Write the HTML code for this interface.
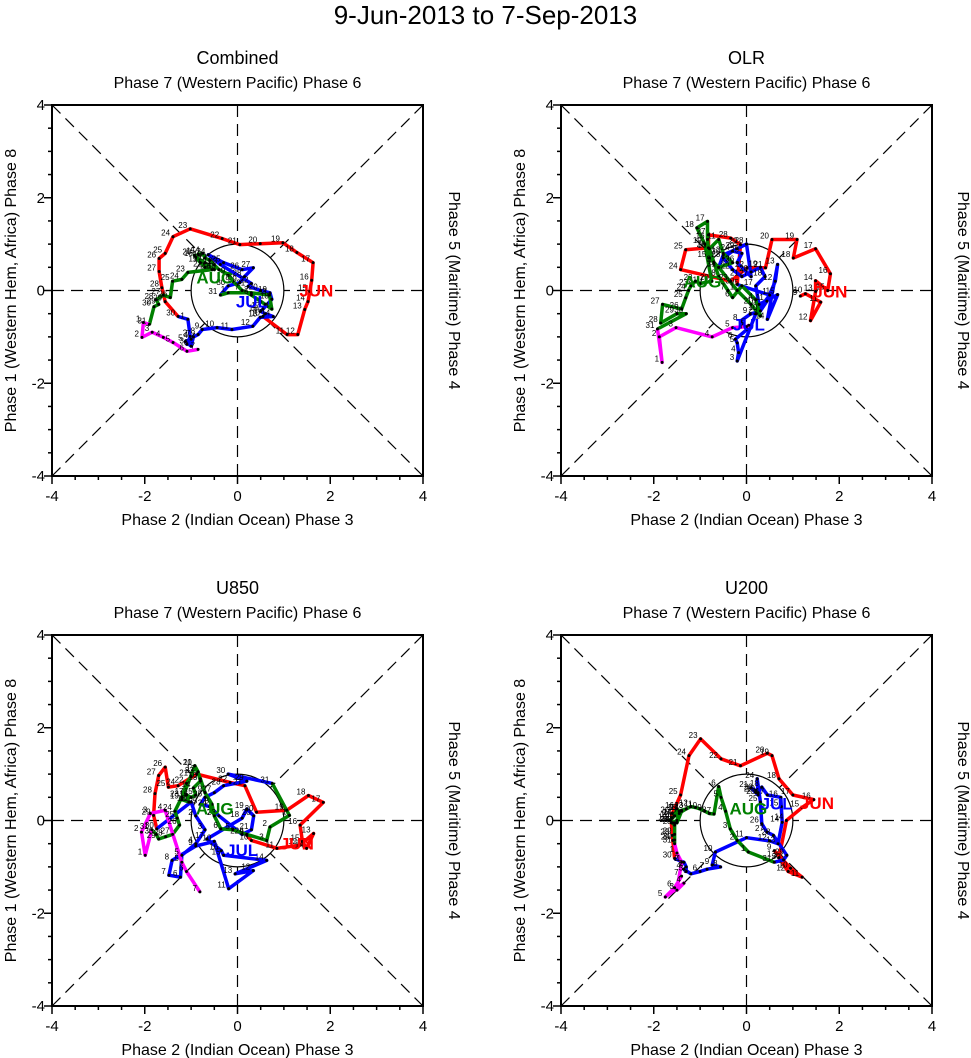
<!DOCTYPE html>
<html><head><meta charset="utf-8"><style>
html,body{margin:0;padding:0;background:#fff}
svg{display:block;font-family:"Liberation Sans",Arial,sans-serif}
</style></head><body>
<svg id="root" width="971" height="1058" viewBox="0 0 971 1058" xmlns="http://www.w3.org/2000/svg">
<text x="485.5" y="24" text-anchor="middle" font-size="26">9-Jun-2013 to 7-Sep-2013</text>
</svg>
<script>
// ---- data (RMM1, RMM2) per panel / month ----
const panelTitles = ["Combined","OLR","U850","U200"];
const monthNames = ["JUN","JUL","AUG"];
const monthStartDays = [10, 9, 9, 9];
const tickValues = [-4,-2,0,2,4];

const combJun = [[0.55,-0.56],[1.07,-0.95],[1.30,-0.95],[1.45,-0.41],[1.52,-0.24],[1.56,-0.02],[1.6,0.22],[1.63,0.6],[1.28,0.82],[0.98,1.03],[0.49,1.01],[0.05,0.99],[-0.33,1.12],[-1.02,1.33],[-1.39,1.16],[-1.56,0.8],[-1.69,0.69],[-1.69,0.41],[-1.63,0.06],[-1.56,-0.24],[-1.28,-0.56]];
const combJul = [[-1.07,-0.62],[-1.02,-0.99],[-1.09,-1.16],[-1.0,-1.05],[-1.12,-1.1],[-1.0,-1.2],[-0.95,-1.0],[-0.85,-0.95],[-0.76,-0.84],[-0.44,-0.8],[-0.12,-0.84],[0.33,-0.77],[0.49,-0.58],[0.77,-0.56],[0.6,-0.5],[0.5,-0.45],[0.55,-0.4],[0.74,-0.19],[0.7,-0.05],[0.5,0.0],[0.23,0.09],[0.3,0.15],[-0.37,0.56],[-0.63,0.77],[-0.3,0.6],[0.1,0.45],[0.34,0.49],[0.15,0.3],[0.05,0.17],[-0.2,0.1],[-0.37,-0.1]];
const combAug = [[-0.2,-0.05],[0.3,-0.05],[0.69,-0.1],[0.74,-0.4],[0.6,-0.3],[0.3,-0.1],[0.1,0.0],[-0.1,0.2],[-0.2,0.35],[-0.4,0.45],[-0.5,0.55],[-0.6,0.65],[-0.7,0.7],[-0.75,0.8],[-0.85,0.78],[-0.9,0.72],[-0.7,0.6],[-0.5,0.45],[-0.8,0.6],[-0.93,0.76],[-0.7,0.5],[-0.55,0.45],[-1.07,0.39],[-1.2,0.24],[-1.4,0.2],[-1.45,-0.15],[-1.6,-0.1],[-1.75,-0.2],[-1.7,-0.3],[-1.8,-0.35],[-1.9,-0.73]];
const combSep = [[-2.03,-0.69],[-2.06,-1.01],[-1.84,-0.9],[-1.6,-1.01],[-1.39,-1.12],[-1.09,-1.31],[-0.85,-1.27]];

const olrJun = [[1.16,-0.12],[1.27,-0.07],[1.6,-0.25],[1.38,-0.65],[1.49,-0.02],[1.49,0.21],[1.75,0.0],[1.81,0.36],[1.49,0.9],[1.01,0.7],[1.09,1.1],[0.55,1.1],[0.41,0.49],[0.01,0.49],[-0.34,0.2],[-1.42,0.45],[-1.31,0.88],[-0.82,0.92],[-0.82,1.2],[-0.34,1.13],[-0.13,0.99],[-0.2,0.13]];
const olrJul = [[0.5,-0.1],[0.2,-0.5],[-0.2,-1.52],[-0.17,-1.34],[-0.2,-1.13],[-0.24,-1.05],[0.01,-0.84],[-0.13,-0.66],[0.08,-0.51],[0.3,-0.44],[0.44,-0.23],[0.62,0.2],[0.67,0.56],[0.45,-0.62],[0.67,-0.09],[0.27,-0.3],[0.2,0.1],[0.4,0.3],[0.3,0.5],[0.1,0.4],[-0.1,0.3],[-0.3,0.45],[-0.5,0.7],[-0.3,0.85],[-0.1,0.8],[-0.2,0.6],[0.1,0.3],[0.0,1.0],[-0.2,0.9],[-0.5,0.77],[-0.6,0.5]];
const olrAug = [[-0.2,0.0],[0.1,-0.3],[0.3,-0.55],[0.2,-0.2],[-0.1,0.1],[-0.3,-0.15],[-0.4,0.0],[-0.6,0.3],[-0.7,0.6],[-0.8,0.9],[-0.6,1.1],[-0.5,0.8],[-0.3,0.6],[-0.6,0.5],[-0.8,0.7],[-0.84,1.1],[-0.84,1.49],[-1.07,1.35],[-0.9,1.0],[-0.75,0.2],[-1.0,0.15],[-1.1,0.2],[-1.2,0.1],[-1.25,0.0],[-1.31,-0.16],[-1.4,-0.4],[-1.81,-0.3],[-1.85,-0.7],[-1.5,-0.5],[-1.3,-0.5],[-1.92,-0.83]];
const olrSep = [[-1.82,-1.55],[-1.88,-1.0],[-1.52,-0.8],[-0.74,-1.0],[-0.3,-0.8],[0.0,-0.78],[0.05,-0.75]];

const u850Jun = [[0.2,-0.32],[0.3,-0.43],[0.85,-0.6],[1.35,-0.53],[1.64,-0.28],[1.49,-0.6],[1.4,-0.45],[1.35,-0.1],[1.85,0.39],[1.53,0.54],[1.06,0.22],[0.41,0.18],[0.16,0.75],[-0.16,0.82],[-0.88,1.0],[-1.28,0.75],[-1.49,0.72],[-1.56,1.15],[-1.7,0.97],[-1.78,0.58],[-1.81,0.11],[-1.74,-0.18]];
const u850Jul = [[-1.0,0.4],[-0.9,0.1],[-0.7,-0.2],[-0.9,-0.5],[-1.2,-0.75],[-1.23,-1.22],[-1.48,-1.18],[-1.41,-0.86],[-0.9,-0.55],[-0.5,-0.45],[-0.19,-1.47],[0.34,-1.08],[-0.05,-1.15],[0.63,-0.86],[-0.3,-0.75],[-0.35,-0.65],[-0.66,-0.4],[0.1,0.05],[0.2,0.25],[0.35,0.1],[0.3,-0.2],[0.1,-0.3],[-0.4,0.1],[-0.6,0.3],[-0.8,0.35],[-0.7,0.5],[-0.5,0.6],[-0.3,0.75],[0.2,0.85],[-0.2,1.0],[0.75,0.8]];
const u850Aug = [[1.12,0.11],[0.7,-0.14],[0.63,-0.43],[0.2,-0.3],[-0.1,-0.2],[-0.36,-0.18],[-0.5,0.1],[-0.55,0.35],[-0.7,0.6],[-0.8,0.9],[-0.92,1.18],[-0.85,1.05],[-0.8,0.85],[-0.95,0.7],[-0.9,0.55],[-1.0,0.5],[-1.1,0.55],[-1.05,0.4],[-1.2,0.45],[-0.92,1.18],[-1.0,0.95],[-1.1,0.8],[-1.2,0.5],[-1.35,0.2],[-1.3,0.05],[-1.25,-0.1],[-1.4,-0.3],[-1.55,-0.35],[-1.7,-0.4],[-1.75,-0.3],[-1.85,-0.2]];
const u850Sep = [[-1.99,-0.75],[-2.07,-0.25],[-1.88,0.15],[-1.56,0.22],[-1.2,-0.9],[-1.1,-1.1],[-0.81,-1.54]];

const u200Jun = [[0.6,-0.65],[0.95,-1.03],[1.2,-1.22],[0.9,-1.1],[0.7,-0.8],[0.86,0.0],[1.2,0.28],[1.45,0.45],[1.0,0.55],[0.7,0.9],[0.55,1.4],[0.45,1.45],[-0.13,1.18],[-0.55,1.33],[-0.99,1.76],[-1.24,1.4],[-1.42,0.55],[-1.6,0.15],[-1.62,-0.05],[-1.6,-0.32],[-1.59,-0.43],[-1.55,-0.82]];
const u200Jul = [[-1.35,-0.9],[-1.3,-1.0],[-1.3,-1.1],[-1.35,-1.05],[-1.2,-1.15],[-1.0,-1.1],[-0.85,-1.05],[-0.56,-1.0],[-0.74,-0.96],[-0.67,-0.68],[0.0,-0.37],[0.5,-0.44],[0.68,-0.5],[0.77,-0.04],[0.75,0.3],[0.74,0.5],[0.45,0.55],[0.33,0.72],[0.25,0.6],[0.2,0.65],[0.1,0.7],[0.2,0.6],[0.25,0.55],[0.23,0.9],[0.3,0.4],[0.33,-0.07],[0.44,-0.25],[0.58,-0.32],[0.87,-0.75],[0.8,-0.85],[0.6,-0.9]];
const u200Aug = [[0.04,-0.68],[-0.2,-0.43],[-0.35,-0.18],[-0.45,0.2],[-0.55,0.5],[-0.6,0.73],[-0.7,0.14],[-0.8,0.15],[-0.9,0.2],[-1.0,0.25],[-1.1,0.28],[-1.2,0.3],[-1.3,0.25],[-1.4,0.22],[-1.45,0.2],[-1.5,0.25],[-1.55,0.1],[-1.6,0.05],[-1.65,0.0],[-1.55,-0.05],[-1.5,-0.05],[-1.4,0.2],[-1.3,0.25],[-1.55,0.1],[-1.45,0.15],[-1.5,0.0],[-1.6,-0.05],[-1.55,-0.1],[-1.55,-0.3],[-1.55,-0.42],[-1.55,-0.5]];
const u200Sep = [[-1.5,-0.7],[-1.4,-0.9],[-1.5,-1.5],[-1.35,-1.35],[-1.75,-1.65],[-1.55,-1.45],[-1.4,-1.2]];

const monthLabelPos = [
  [[1.7,0.0],[0.31,-0.24],[-0.48,0.28]],
  [[1.81,-0.02],[0.05,-0.73],[-0.95,0.19]],
  [[1.28,-0.5],[0.1,-0.64],[-0.49,0.26]],
  [[1.52,0.38],[0.65,0.37],[0.04,0.26]]
];
const panelSeries = [
  [combJun,combJul,combAug,combSep],
  [olrJun,olrJul,olrAug,olrSep],
  [u850Jun,u850Jul,u850Aug,u850Sep],
  [u200Jun,u200Jul,u200Aug,u200Sep]
];
const colors = ["#ff0000","#0000ff","#008000","#ff00ff"];
const seriesKeys = ["jun","jul","aug","sep"];

const NS="http://www.w3.org/2000/svg";
const root=document.getElementById('root');
function mk(tag,attrs,parent){const e=document.createElementNS(NS,tag);for(const k in attrs)e.setAttribute(k,attrs[k]);(parent||root).appendChild(e);return e;}

const origins=[[52,105],[561,105],[52,635],[561,635]];
const SIZE=371;
panelSeries.forEach((series,p)=>{
  const [x0,y0]=origins[p];
  const sx=v=>x0+(v+4)/8*SIZE;
  const sy=v=>y0+(4-v)/8*SIZE;
  const unit=SIZE/8;
  const g=mk('g',{});
  
  
  const cx=sx(0), cy=sy(0);
  const t=mk('text',{x:cx,y:y0-41,'text-anchor':'middle','font-size':18},g);t.textContent=panelTitles[p];
  
  
  const tt=mk('text',{x:cx,y:y0-17,'text-anchor':'middle','font-size':16},g);tt.textContent='Phase 7 (Western Pacific) Phase 6';
  
  
  const bt=mk('text',{x:cx,y:y0+SIZE+49,'text-anchor':'middle','font-size':16},g);bt.textContent='Phase 2 (Indian Ocean) Phase 3';
  
  
  const lt=mk('text',{x:0,y:0,'text-anchor':'middle','font-size':16,transform:`translate(${x0-36},${cy}) rotate(-90)`},g);lt.textContent='Phase 1 (Western Hem, Africa) Phase 8';
  
  
  const rt=mk('text',{x:0,y:0,'text-anchor':'middle','font-size':16,transform:`translate(${x0+SIZE+26},${cy}) rotate(90)`},g);rt.textContent='Phase 5 (Maritime) Phase 4';
  
  
  const dirs=[[1,0],[-1,0],[0,1],[0,-1],[1,1],[1,-1],[-1,1],[-1,-1]];
  dirs.forEach(d=>{
    const len=Math.hypot(d[0],d[1]);
    const ex=cx+d[0]*4*unit, ey=cy-d[1]*4*unit;
    const ix=cx+d[0]/len*unit, iy=cy-d[1]/len*unit;
    const l=mk('line',{x1:ex,y1:ey,x2:ix,y2:iy,stroke:'#000','stroke-width':1.2,'stroke-dasharray':'12,7'},g);
    
    
  });
  const c=mk('circle',{cx:cx,cy:cy,r:unit,fill:'none',stroke:'#000','stroke-width':1.2},g);
  
  
  const fr=mk('rect',{x:x0,y:y0,width:SIZE,height:SIZE,fill:'none',stroke:'#000','stroke-width':2},g);
  
  
  // outward ticks on left and bottom
  for(let v=-4;v<=4;v+=0.5){
    const major=(v%2===0);const L=major?8:4;
    mk('line',{x1:sx(v),y1:y0+SIZE,x2:sx(v),y2:y0+SIZE+L,stroke:'#000','stroke-width':1.5},g);
    mk('line',{x1:x0,y1:sy(v),x2:x0-L,y2:sy(v),stroke:'#000','stroke-width':1.5},g);
  }
  tickValues.forEach(v=>{
    const a=mk('text',{x:sx(v),y:y0+SIZE+25,'text-anchor':'middle','font-size':15},g);a.textContent=v;
    
    
    const b=mk('text',{x:x0-7,y:sy(v)+5,'text-anchor':'end','font-size':15},g);b.textContent=v;
    
    
  });
  let prev=null;
  series.forEach((pts,m)=>{
    const all=prev?[prev].concat(pts):pts;
    const d=all.map((q,i)=>(i?'L':'M')+sx(q[0]).toFixed(1)+','+sy(q[1]).toFixed(1)).join(' ');
    const pl=mk('path',{d:d,fill:'none',stroke:colors[m],'stroke-width':3.5,'stroke-linejoin':'round'},g);
    
    
    prev=pts[pts.length-1];
  });
  series.forEach((pts,m)=>{
    const start=m===0?monthStartDays[p]:1;
    pts.forEach((q,i)=>{
      const dot=mk('circle',{cx:sx(q[0]),cy:sy(q[1]),r:1.5,fill:'#000'},g);
      
      
      const lb=mk('text',{x:sx(q[0])-3,y:sy(q[1])-1,'text-anchor':'end','font-size':8},g);
      lb.textContent=start+i;
      
      
    });
  });
  monthLabelPos[p].forEach((q,m)=>{
    const ml=mk('text',{x:sx(q[0]),y:sy(q[1])+6,'text-anchor':'middle','font-size':17,'font-weight':'bold',fill:colors[m]},g);
    ml.textContent=monthNames[m];
    
    
  });
});
</script>
</body></html>
